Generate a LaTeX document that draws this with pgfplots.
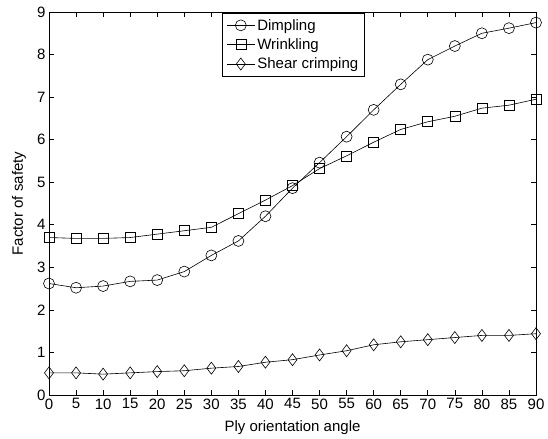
\documentclass[border=0pt]{standalone}
\usepackage{pgfplots}
\pgfplotsset{compat=1.18}
\usepackage{fontspec}
\setmainfont{Liberation Sans}
\begin{document}
\begin{tikzpicture}
\begin{axis}[
  scale only axis,
  width=487pt, height=383pt,
  xmin=0, xmax=90, ymin=0, ymax=9,
  xtick={0,5,...,90}, ytick={0,1,...,9},
  tick align=inside, tick pos=both,
  major tick length=5pt,
  axis line style={line width=0.8pt},
  tick style={line width=0.6pt, black},
  /pgf/number format/assume math mode=true,
  ticklabel style={font=\fontsize{15}{17}\selectfont},
  label style={font=\fontsize{15}{17}\selectfont},
  xlabel={Ply orientation angle},
  ylabel={Factor of safety},
  xlabel style={at={([yshift=-33pt]axis description cs:0.5,0)}, anchor=center},
  ylabel style={at={([xshift=-30pt]axis description cs:0,0.5)}, anchor=center},
  legend style={at={(0.355,0.998)}, anchor=north west, font=\fontsize{15}{17}\selectfont,
    draw=black, line width=0.8pt, inner xsep=4pt, inner ysep=4pt, row sep=3pt, cells={anchor=west}},
  legend image code/.code={\draw[mark repeat=2,mark phase=2] plot coordinates {(0cm,0cm)(0.5cm,0cm)(1cm,0cm)};},
  legend cell align=left,
  every axis plot/.append style={black, line width=0.6pt, mark options={solid, fill=white}},
]
\addplot[mark=o, mark size=5.5pt] coordinates {
(0,2.62)(5,2.52)(10,2.56)(15,2.67)(20,2.70)(25,2.90)(30,3.28)(35,3.62)(40,4.20)(45,4.86)
(50,5.46)(55,6.07)(60,6.70)(65,7.30)(70,7.88)(75,8.20)(80,8.50)(85,8.62)(90,8.75)};
\addlegendentry{Dimpling}
\addplot[mark=square, mark size=5pt] coordinates {
(0,3.70)(5,3.68)(10,3.68)(15,3.70)(20,3.78)(25,3.86)(30,3.94)(35,4.26)(40,4.58)(45,4.92)
(50,5.32)(55,5.62)(60,5.94)(65,6.24)(70,6.42)(75,6.55)(80,6.74)(85,6.81)(90,6.95)};
\addlegendentry{Wrinkling}
\addplot[mark=diamond, mark size=6pt] coordinates {
(0,0.52)(5,0.52)(10,0.49)(15,0.52)(20,0.55)(25,0.57)(30,0.63)(35,0.67)(40,0.77)(45,0.83)
(50,0.94)(55,1.04)(60,1.18)(65,1.25)(70,1.30)(75,1.35)(80,1.40)(85,1.40)(90,1.44)};
\addlegendentry{Shear crimping}
\end{axis}
\path (current axis.south west) ++(-49pt,-42pt);
\path (current axis.north east) ++(12pt,12pt);
\end{tikzpicture}
\end{document}
